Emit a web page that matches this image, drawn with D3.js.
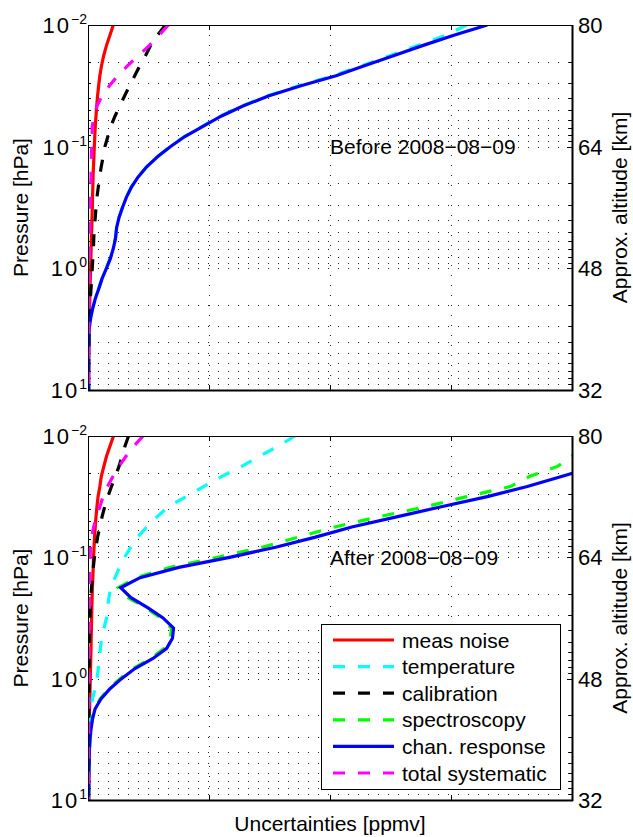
<!DOCTYPE html>
<html>
<head>
<meta charset="utf-8">
<title>Uncertainties</title>
<script src="https://d3js.org/d3.v7.min.js"></script>
<style>
    body { margin: 0; background: #fff; }
    svg text { font-family: "Liberation Sans", Arial, Helvetica, sans-serif; fill: #000; }
    .grid line { stroke: #222; stroke-width: 1; stroke-dasharray: 1,9; shape-rendering: crispEdges; }
    .tick-mark { stroke: #000; stroke-width: 1; shape-rendering: crispEdges; }
</style>
</head>
<body>
<svg width="633" height="837"></svg>
<script>
// pressure levels [hPa], from the top of the plot down
var pressure = [0.01, 0.0121, 0.0147, 0.0178, 0.0215, 0.0261, 0.0316, 0.0383, 0.0464, 0.0562, 0.0681, 0.0825,
                0.1, 0.121, 0.147, 0.178, 0.215, 0.261, 0.316, 0.383, 0.464, 0.562, 0.681, 0.825,
                1, 1.21, 1.47, 1.78, 2.15, 2.61, 3.16, 3.83, 4.64, 5.62, 6.81, 8.25, 10];

// before 2008-08-09
var beforeNoise = [0.209, 0.182, 0.153, 0.13, 0.112, 0.098, 0.088, 0.079, 0.072, 0.066, 0.06, 0.056,
                   0.052, 0.049, 0.045, 0.042, 0.04, 0.037, 0.036, 0.033, 0.031, 0.028, 0.026, 0.024,
                   0.021, 0.019, 0.017, 0.015, 0.013, 0.011, 0.009, 0.008, 0.007, 0.006, 0.006, 0.005, 0.005];
var beforeTemp = [3.13, 2.96, 2.73, 2.50, 2.27, 2.03, 1.74, 1.48, 1.27, 1.09, 0.945, 0.797,
                  0.678, 0.573, 0.482, 0.412, 0.358, 0.316, 0.284, 0.255, 0.235, 0.227, 0.209, 0.185,
                  0.151, 0.116, 0.088, 0.059, 0.037, 0.02, 0.01, 0.007, 0.006, 0.005, 0.005, 0.005, 0.005];
var beforeCal = [0.64, 0.575, 0.518, 0.476, 0.43, 0.386, 0.344, 0.302, 0.262, 0.223, 0.188, 0.164,
                 0.14, 0.125, 0.109, 0.095, 0.085, 0.074, 0.066, 0.06, 0.052, 0.048, 0.045, 0.04,
                 0.035, 0.031, 0.025, 0.019, 0.015, 0.012, 0.01, 0.008, 0.007, 0.006, 0.005, 0.005, 0.005];
var beforeChan = [3.30, 3.03, 2.77, 2.53, 2.29, 2.05, 1.76, 1.49, 1.28, 1.10, 0.95, 0.80,
                  0.68, 0.574, 0.483, 0.413, 0.359, 0.317, 0.285, 0.256, 0.236, 0.228, 0.21, 0.186,
                  0.152, 0.117, 0.089, 0.06, 0.038, 0.021, 0.01, 0.007, 0.006, 0.005, 0.005, 0.005, 0.005];
var beforeSys = [0.664, 0.588, 0.508, 0.417, 0.33, 0.245, 0.177, 0.116, 0.074, 0.05, 0.035, 0.033,
                 0.031, 0.028, 0.026, 0.025, 0.022, 0.02, 0.017, 0.016, 0.015, 0.014, 0.013, 0.012,
                 0.011, 0.01, 0.009, 0.008, 0.008, 0.007, 0.007, 0.006, 0.006, 0.005, 0.005, 0.005, 0.005];

// after 2008-08-09
var afterNoise = [0.211, 0.182, 0.153, 0.131, 0.11, 0.098, 0.083, 0.074, 0.066, 0.06, 0.054, 0.05,
                  0.046, 0.043, 0.04, 0.036, 0.034, 0.032, 0.03, 0.028, 0.026, 0.025, 0.023, 0.021,
                  0.019, 0.017, 0.015, 0.013, 0.011, 0.01, 0.009, 0.008, 0.007, 0.006, 0.006, 0.005, 0.005];
var afterTemp = [1.71, 1.574, 1.417, 1.27, 1.107, 0.954, 0.81, 0.663, 0.57, 0.485, 0.41, 0.353,
                 0.302, 0.26, 0.223, 0.186, 0.173, 0.161, 0.153, 0.132, 0.112, 0.103, 0.095, 0.085,
                 0.074, 0.058, 0.037, 0.022, 0.012, 0.008, 0.006, 0.005, 0.005, 0.005, 0.005, 0.005, 0.005];
var afterCal = [0.335, 0.306, 0.281, 0.256, 0.226, 0.194, 0.164, 0.138, 0.116, 0.098, 0.079, 0.066,
                0.053, 0.044, 0.036, 0.029, 0.023, 0.019, 0.016, 0.014, 0.013, 0.012, 0.011, 0.01,
                0.009, 0.009, 0.008, 0.008, 0.007, 0.007, 0.006, 0.006, 0.006, 0.005, 0.005, 0.005, 0.005];
var afterSpec = [4.48, 4.23, 4.0, 3.88, 3.65, 3.49, 3.13, 2.79, 2.40, 2.04, 1.74, 1.44,
                 1.07, 0.68, 0.40, 0.25, 0.33, 0.48, 0.60, 0.69, 0.68, 0.63, 0.52, 0.375,
                 0.265, 0.172, 0.1, 0.054, 0.034, 0.023, 0.016, 0.011, 0.009, 0.008, 0.007, 0.006, 0.005];
var afterChan = [5.06, 4.77, 4.48, 4.19, 3.92, 3.63, 3.30, 2.92, 2.55, 2.18, 1.88, 1.55,
                 1.17, 0.75, 0.43, 0.27, 0.355, 0.496, 0.62, 0.707, 0.698, 0.65, 0.537, 0.388,
                 0.277, 0.182, 0.107, 0.058, 0.037, 0.025, 0.017, 0.012, 0.01, 0.008, 0.007, 0.006, 0.005];
var afterSys = [0.455, 0.38, 0.314, 0.256, 0.207, 0.161, 0.124, 0.098, 0.07, 0.047, 0.029, 0.021,
                0.017, 0.015, 0.014, 0.013, 0.012, 0.011, 0.011, 0.01, 0.01, 0.009, 0.009, 0.008,
                0.008, 0.008, 0.007, 0.007, 0.006, 0.006, 0.006, 0.005, 0.005, 0.005, 0.005, 0.005, 0.005];

var seriesNames = ["meas noise", "temperature", "calibration", "spectroscopy", "chan. response", "total systematic"];
var seriesColors = ["#ff0000", "#00ffff", "#000000", "#00ff00", "#0000ff", "#ff00ff"];
var seriesDashed = [false, true, true, true, false, true];

var xTicks = [0, 1, 2, 3, 4];
var pressureTicks = [10, 1, 0.1, 0.01];
var pressureExp = ["1", "0", "\u22121", "\u22122"];
var altTicks = [32, 48, 64, 80];

var svg = d3.select("svg"),
    left = 88, right = 572;

var x = d3.scaleLinear().domain([0, 4]).range([left, right]);

var panels = [
    {top: 25, bottom: 390, note: "Before 2008\u221208\u221209", legend: false,
     series: [beforeNoise, beforeTemp, beforeCal, null, beforeChan, beforeSys]},
    {top: 436, bottom: 800, note: "After 2008\u221208\u221209", legend: true,
     series: [afterNoise, afterTemp, afterCal, afterSpec, afterChan, afterSys]}
];

panels.forEach(function(pn, k) {
    var y = d3.scaleLog().domain([10, 0.01]).range([pn.bottom, pn.top]);
    var alt = d3.scaleLinear().domain([32, 80]).range([pn.bottom, pn.top]);
    var g = svg.append("g");

    // dotted grid
    var grid = g.append("g").attr("class", "grid");
    var minor = y.ticks().filter(function(p) { return p > 0.0101 && p < 9.99; });
    grid.selectAll(".h").data(minor).enter().append("line")
        .attr("x1", left).attr("x2", right)
        .attr("y1", function(p) { return Math.round(y(p)) + 0.5; })
        .attr("y2", function(p) { return Math.round(y(p)) + 0.5; });
    grid.selectAll(".v").data(xTicks.slice(1, -1)).enter().append("line")
        .attr("x1", function(v) { return Math.round(x(v)) + 0.5; })
        .attr("x2", function(v) { return Math.round(x(v)) + 0.5; })
        .attr("y1", pn.top).attr("y2", pn.bottom);

    // tick marks pointing inward
    var ticks = g.append("g");
    minor.concat(pressureTicks).forEach(function(p) {
        var major = pressureTicks.indexOf(p) >= 0;
        var yy = Math.round(y(p)) + 0.5, len = major ? 5 : 3;
        ticks.append("line").attr("class", "tick-mark").attr("x1", left).attr("x2", left + len).attr("y1", yy).attr("y2", yy);
        ticks.append("line").attr("class", "tick-mark").attr("x1", right).attr("x2", right - len).attr("y1", yy).attr("y2", yy);
    });
    xTicks.slice(1, -1).forEach(function(v) {
        var xx = Math.round(x(v)) + 0.5;
        ticks.append("line").attr("class", "tick-mark").attr("x1", xx).attr("x2", xx).attr("y1", pn.bottom).attr("y2", pn.bottom - 5);
        ticks.append("line").attr("class", "tick-mark").attr("x1", xx).attr("x2", xx).attr("y1", pn.top).attr("y2", pn.top + 5);
    });

    // curves
    var clipId = "clip" + k;
    g.append("clipPath").attr("id", clipId).append("rect")
        .attr("x", left).attr("y", pn.top).attr("width", right - left).attr("height", pn.bottom - pn.top);

    var line = d3.line()
        .x(function(d) { return x(d[1]); })
        .y(function(d) { return y(d[0]); });

    pn.series.forEach(function(vals, i) {
        if (!vals) return;
        g.append("path")
            .datum(d3.zip(pressure, vals))
            .attr("clip-path", "url(#" + clipId + ")")
            .attr("fill", "none")
            .attr("stroke", seriesColors[i])
            .attr("stroke-width", 3.2)
            .attr("stroke-dasharray", seriesDashed[i] ? "12,13" : null)
            .attr("d", line);
    });

    // axes box
    g.append("rect").attr("x", left + 0.5).attr("y", pn.top + 0.5)
        .attr("width", right - left).attr("height", pn.bottom - pn.top)
        .attr("fill", "none").attr("stroke", "#000").attr("stroke-width", 1);
    g.append("line").attr("x1", left).attr("x2", right + 1).attr("y1", pn.bottom + 0.5).attr("y2", pn.bottom + 0.5)
        .attr("stroke", "#000").attr("stroke-width", 2);
    g.append("line").attr("x1", right + 0.5).attr("x2", right + 0.5).attr("y1", pn.top).attr("y2", pn.bottom + 1)
        .attr("stroke", "#000").attr("stroke-width", 2);

    // left tick labels 10^n
    pressureTicks.forEach(function(p, j) {
        var t = g.append("text").attr("x", 87).attr("y", y(p) + 8)
            .attr("text-anchor", "end").style("font-size", "22px");
        t.append("tspan").style("letter-spacing", "2px").text("10");
        t.append("tspan").attr("dy", -9).style("font-size", "14px").text(pressureExp[j]);
    });

    // right altitude labels
    g.selectAll(".alt").data(altTicks).enter().append("text")
        .attr("x", 578).attr("y", function(a) { return alt(a) + 8; })
        .style("font-size", "22px")
        .text(function(a) { return a; });

    var mid = (pn.top + pn.bottom) / 2;
    g.append("text").attr("transform", "translate(28," + mid + ") rotate(-90)")
        .attr("text-anchor", "middle").style("font-size", "21px").text("Pressure [hPa]");
    g.append("text").attr("transform", "translate(627," + mid + ") rotate(-90)")
        .attr("text-anchor", "middle").style("font-size", "21px").text("Approx. altitude [km]");

    g.append("text").attr("x", 330).attr("y", y(0.1) + 7.5)
        .style("font-size", "21px").text(pn.note);

    if (pn.legend) {
        var lg = g.append("g");
        lg.append("rect").attr("x", 321.5).attr("y", 624.5).attr("width", 239).attr("height", 165)
            .attr("fill", "#fff").attr("stroke", "#000").attr("stroke-width", 1);
        seriesNames.forEach(function(name, i) {
            var yy = 640 + i * 26.6;
            lg.append("line").attr("x1", 333).attr("x2", 394).attr("y1", yy).attr("y2", yy)
                .attr("stroke", seriesColors[i]).attr("stroke-width", 3.2)
                .attr("stroke-dasharray", seriesDashed[i] ? "12,13" : null);
            lg.append("text").attr("x", 402).attr("y", yy + 7.5)
                .style("font-size", "21px").text(name);
        });
    }
});

svg.append("text").attr("x", 330).attr("y", 831).attr("text-anchor", "middle")
    .style("font-size", "21px").text("Uncertainties [ppmv]");
</script>
</body>
</html>
